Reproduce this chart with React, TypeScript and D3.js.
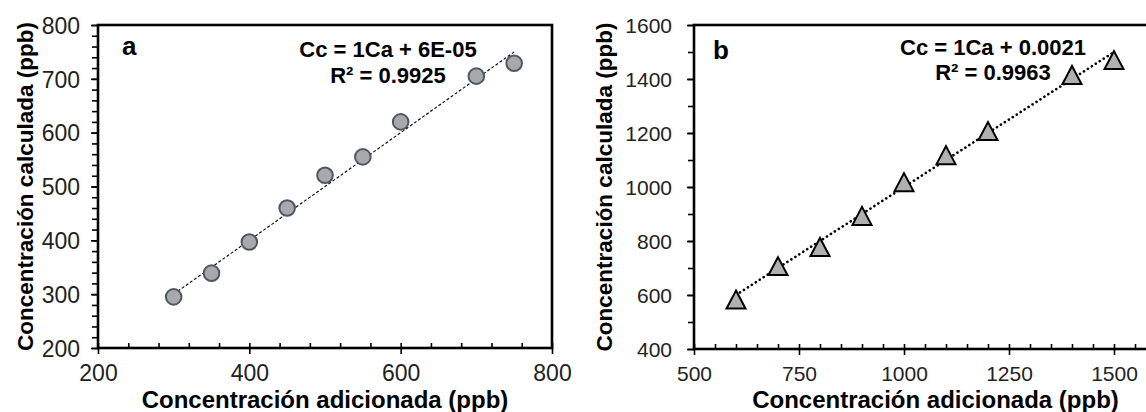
import * as d3 from "d3";
import { useRef, useEffect } from "react";

// panel a: added vs calculated concentration (ppb)
const addedA = [300, 350, 400, 450, 500, 550, 600, 700, 750];
const calcA = [295, 339, 397, 460, 521, 555, 620, 705, 729];
const xTicksA = [200, 400, 600, 800];
const yTicksA = [200, 300, 400, 500, 600, 700, 800];
const eqA = ["Cc = 1Ca + 6E-05", "R² = 0.9925"];
const fitA = [1, 0.00006];

// panel b
const addedB = [600, 700, 800, 900, 1000, 1100, 1200, 1400, 1500];
const calcB = [583, 707, 778, 893, 1018, 1118, 1207, 1415, 1470];
const xTicksB = [500, 750, 1000, 1250, 1500];
const yTicksB = [400, 600, 800, 1000, 1200, 1400, 1600];
const eqB = ["Cc = 1Ca + 0.0021", "R² = 0.9963"];
const fitB = [1, 0.0021];

const xTitle = "Concentración adicionada (ppb)";
const yTitle = "Concentración calculada (ppb)";

const FONT = "'Liberation Sans', Arial, sans-serif";

const App = () => {
  const container = useRef(null);

  useEffect(() => {
    createChart();
  });

  const createChart = () => {
    let svg = d3.select(container.current);

    let panels = [
      {
        key: "a",
        xs: addedA,
        ys: calcA,
        fit: fitA,
        eq: eqA,
        xTicks: xTicksA,
        yTicks: yTicksA,
        xDomain: [200, 800],
        yDomain: [200, 800],
        xMinor: 40,
        yMinor: 20,
        left: 98,
        right: 552,
        top: 25,
        bottom: 348,
        yLabelPad: 11,
        xLabelY: 33,
        yTitleX: 33,
        letterX: 122,
        letterY: 55,
        eqX: 388,
        eqY: 57,
        eqDy: 26,
        marker: "circle",
        dash: "3,2",
        lineWidth: 1.1,
        cap: "butt",
        tickFont: 23,
      },
      {
        key: "b",
        xs: addedB,
        ys: calcB,
        fit: fitB,
        eq: eqB,
        xTicks: xTicksB,
        yTicks: yTicksB,
        xDomain: [500, 1650],
        yDomain: [400, 1600],
        xMinor: 50,
        yMinor: 100,
        left: 694,
        right: 1177,
        top: 25,
        bottom: 349,
        yLabelPad: 15,
        xLabelY: 32,
        yTitleX: 612,
        letterX: 713,
        letterY: 59,
        eqX: 993,
        eqY: 55,
        eqDy: 25,
        marker: "triangle",
        dash: "0.1,4.6",
        lineWidth: 2.6,
        cap: "round",
        tickFont: 21,
      },
    ];

    panels.forEach((p) => {
      let g = svg
        .selectAll(`.panel-${p.key}`)
        .data([0])
        .join("g")
        .attr("class", `panel-${p.key}`);

      let xScale = d3.scaleLinear().domain(p.xDomain).range([p.left, p.right]);
      let yScale = d3.scaleLinear().domain(p.yDomain).range([p.bottom, p.top]);

      let minorX = d3.range(p.xDomain[0], p.xDomain[1] + 0.1, p.xMinor);
      let minorY = d3.range(p.yDomain[0], p.yDomain[1] + 0.1, p.yMinor);

      // minor ticks (x inside, y outside)
      g.selectAll(".x-minor")
        .data([0])
        .join("g")
        .attr("class", "x-minor")
        .attr("transform", `translate(0,${p.bottom})`)
        .call(d3.axisTop(xScale).tickValues(minorX).tickSize(5).tickFormat(() => ""))
        .call((a) => a.select(".domain").remove());

      g.selectAll(".y-minor")
        .data([0])
        .join("g")
        .attr("class", "y-minor")
        .attr("transform", `translate(${p.left},0)`)
        .call(d3.axisLeft(yScale).tickValues(minorY).tickSize(6).tickFormat(() => ""))
        .call((a) => a.select(".domain").remove());

      // major ticks + labels
      let xaxisg = g
        .selectAll(".x-axis")
        .data([0])
        .join("g")
        .attr("class", "x-axis")
        .attr("transform", `translate(0,${p.bottom})`)
        .call(d3.axisBottom(xScale).tickValues(p.xTicks).tickSize(6).tickFormat(d3.format("d")))
        .call((a) => a.select(".domain").remove());
      xaxisg
        .selectAll("text")
        .attr("y", p.xLabelY)
        .attr("dy", 0)
        .attr("font-size", p.tickFont)
        .attr("font-family", FONT)
        .attr("fill", "#222");

      let yaxisg = g
        .selectAll(".y-axis")
        .data([0])
        .join("g")
        .attr("class", "y-axis")
        .attr("transform", `translate(${p.left},0)`)
        .call(
          d3.axisLeft(yScale).tickValues(p.yTicks).tickSize(7).tickPadding(p.yLabelPad).tickFormat(d3.format("d"))
        )
        .call((a) => a.select(".domain").remove());
      yaxisg
        .selectAll("text")
        .attr("dy", "0.36em")
        .attr("font-size", p.tickFont)
        .attr("font-family", FONT)
        .attr("fill", "#222");

      g.selectAll(".tick line").attr("stroke", "#000").attr("stroke-width", 1.6);

      // frame
      g.selectAll(".frame")
        .data([0])
        .join("rect")
        .attr("class", "frame")
        .attr("x", p.left)
        .attr("y", p.top)
        .attr("width", p.right - p.left)
        .attr("height", p.bottom - p.top)
        .attr("fill", "none")
        .attr("stroke", "#000")
        .attr("stroke-width", 2.6);

      // trend line
      let x0 = d3.min(p.xs);
      let x1 = d3.max(p.xs);
      let lineGen = d3
        .line()
        .x((d) => xScale(d))
        .y((d) => yScale(p.fit[0] * d + p.fit[1]));
      g.selectAll(".trend")
        .data([[x0, x1]])
        .join("path")
        .attr("class", "trend")
        .attr("d", lineGen)
        .attr("fill", "none")
        .attr("stroke", "#000")
        .attr("stroke-width", p.lineWidth)
        .attr("stroke-linecap", p.cap)
        .attr("stroke-dasharray", p.dash);

      // markers
      let pts = p.xs.map((x, i) => ({ x: x, y: p.ys[i] }));
      if (p.marker === "circle") {
        g.selectAll(".pt")
          .data(pts)
          .join("circle")
          .attr("class", "pt")
          .attr("cx", (d) => xScale(d.x))
          .attr("cy", (d) => yScale(d.y))
          .attr("r", 7.8)
          .attr("fill", "#a9a9ab")
          .attr("stroke", "#4d5866")
          .attr("stroke-width", 2);
      } else {
        let w = 19;
        let h = 18;
        g.selectAll(".pt")
          .data(pts)
          .join("path")
          .attr("class", "pt")
          .attr("d", (d) => {
            let cx = xScale(d.x);
            let cy = yScale(d.y);
            return `M${cx},${cy - h / 2}L${cx + w / 2},${cy + h / 2}L${cx - w / 2},${cy + h / 2}Z`;
          })
          .attr("fill", "#b0b0b0")
          .attr("stroke", "#000")
          .attr("stroke-width", 2)
          .attr("stroke-linejoin", "miter");
      }

      // equation
      g.selectAll(".eq")
        .data(p.eq)
        .join("text")
        .attr("class", "eq")
        .attr("x", p.eqX)
        .attr("y", (d, i) => p.eqY + i * p.eqDy)
        .attr("text-anchor", "middle")
        .attr("font-family", FONT)
        .attr("font-size", 22)
        .attr("font-weight", 700)
        .text((d) => d);

      // panel letter
      g.selectAll(".letter")
        .data([p.key])
        .join("text")
        .attr("class", "letter")
        .attr("x", p.letterX)
        .attr("y", p.letterY)
        .attr("font-family", FONT)
        .attr("font-size", 26)
        .attr("font-weight", 700)
        .text((d) => d);

      // axis titles
      g.selectAll(".x-title")
        .data([0])
        .join("text")
        .attr("class", "x-title")
        .attr("x", (p.left + p.right) / 2)
        .attr("y", 408)
        .attr("text-anchor", "middle")
        .attr("font-family", FONT)
        .attr("font-size", 24)
        .attr("font-weight", 700)
        .text(xTitle);

      g.selectAll(".y-title")
        .data([0])
        .join("text")
        .attr("class", "y-title")
        .attr("transform", `translate(${p.yTitleX},${(p.top + p.bottom) / 2})rotate(-90)`)
        .attr("text-anchor", "middle")
        .attr("font-family", FONT)
        .attr("font-size", 22.5)
        .attr("font-weight", 700)
        .text(yTitle);
    });
  };

  return (
    <svg
      ref={container}
      width={1146}
      height={412}
      style={{ position: "fixed", left: 0, top: 0, background: "#fff", display: "block" }}
    ></svg>
  );
};

export default App;
